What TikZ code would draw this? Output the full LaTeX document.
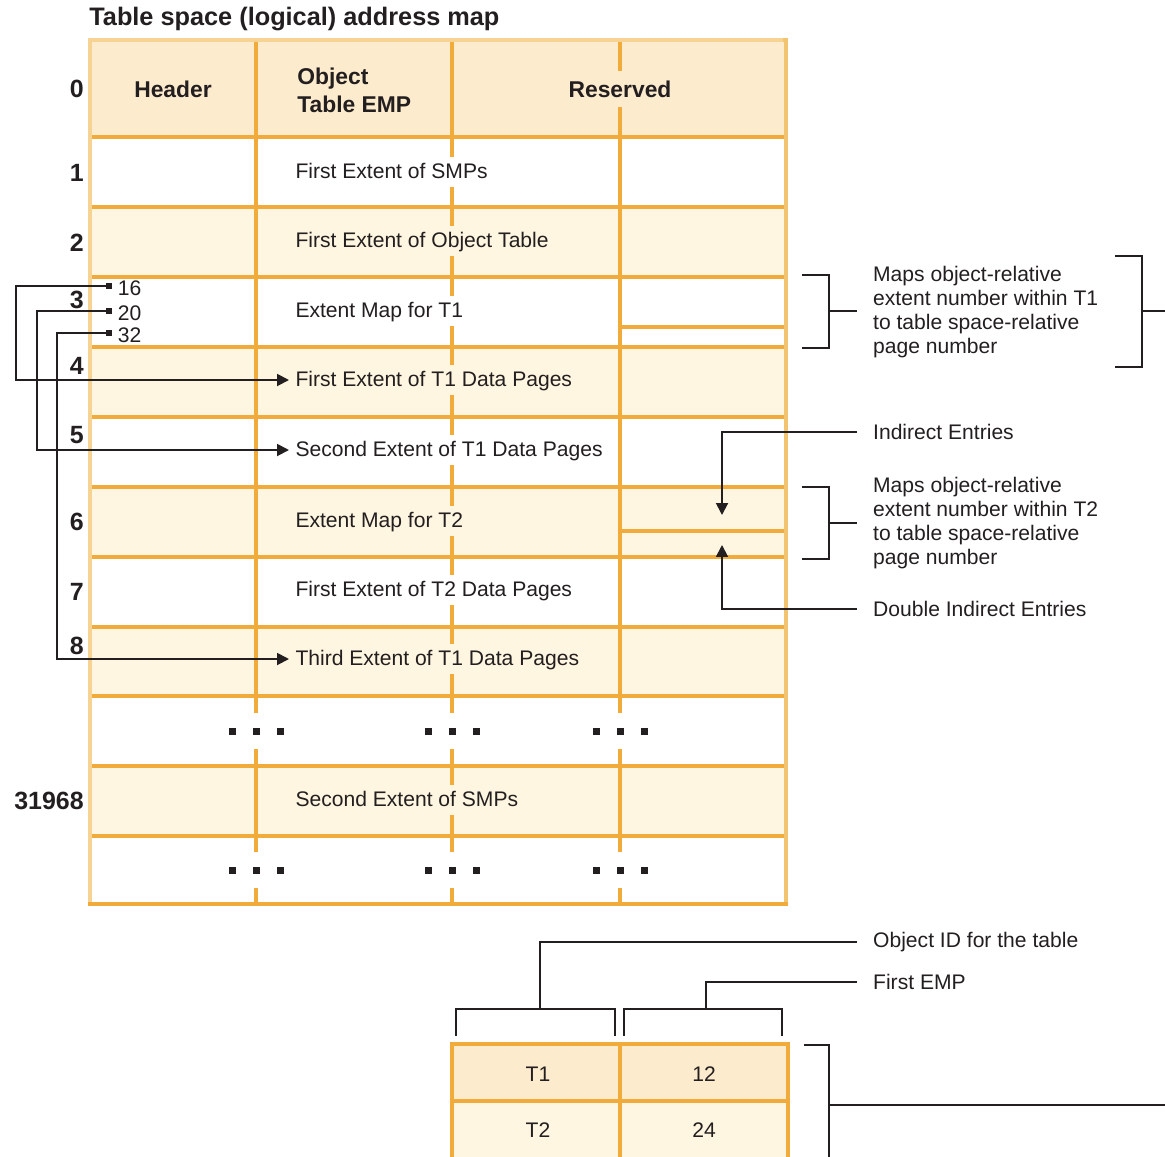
\documentclass[tikz,border=0pt]{standalone}
\usepackage{fontspec}
\setmainfont{Liberation Sans}
\usetikzlibrary{positioning,arrows.meta}

\definecolor{trait}{RGB}{241,171,58}
\definecolor{entete}{RGB}{253,235,205}
\definecolor{clair}{RGB}{254,246,224}
\definecolor{bord}{RGB}{246,211,146}
\definecolor{bordd}{RGB}{243,196,112}
\definecolor{encre}{RGB}{35,31,32}

\tikzset{
  grille/.style={draw=trait,line width=1.8pt},
  lien/.style={draw=encre,line width=1.1pt},
  fleche/.style={lien,-{Triangle[length=6.8pt,width=6.8pt]}},
  texte/.style={font=\fontsize{12}{13.6}\selectfont,text=encre,inner sep=0pt},
  cellule/.style={texte,anchor=west,inner xsep=3.5pt,inner ysep=4.3pt,text height=0.8em,text depth=0.1em},
  annot/.style={texte,anchor=west,align=left,inner xsep=9pt},
  numero/.style={texte,anchor=east,font=\fontsize{14.2}{16}\selectfont\bfseries},
  titre/.style={texte,font=\fontsize{13}{16}\selectfont\bfseries},
  carre/.style={fill=encre,inner sep=0pt,minimum size=3.4pt},
}

\begin{document}
\begin{tikzpicture}[x=0.02cm,y=-0.02cm]
\useasboundingbox (0,0) rectangle (1165,1156);
\clip (0,0) rectangle (1165,1156);

\node[titre,font=\fontsize{14.4}{16}\selectfont\bfseries,anchor=west] (titre) at (89,19) {Table space (logical) address map};

%cadre
\fill[bord] (88,38) rectangle (788,906);
\fill[bordd] (783,38) rectangle (788,906);
\fill[trait] (88,902) rectangle (788,906);
\fill[entete] (92,42) rectangle (784,137);
\foreach \ya/\yb/\c in {137/207/white,207/277/clair,277/347/white,347/417/clair,417/487/white,487/557/clair,557/627/white,627/696/clair,696/766/white,766/836/clair,836/902/white}
  \fill[\c] (92,\ya) rectangle (784,\yb);
\foreach \y in {137,207,277,347,417,487,557,627,696,766,836}
  \draw[grille] (92,\y) -- (784,\y);
\foreach \x in {256,452,620}
  \draw[grille] (\x,42) -- (\x,902);
\draw[grille] (620,327) -- (784,327) (620,531) -- (784,531);

\node[titre] (hHead) at (173,89) {Header};
\node[titre,anchor=west,align=left] (hObj) at (297,90) {Object\\Table EMP};
\node[titre,fill=entete,inner ysep=5.3pt] (hRes) at (620,89) {Reserved};

\foreach \n/\y in {0/89,1/173,2/243,3/300,4/366,5/435,6/522,7/592,8/646,31968/801}
  \node[numero] (n\n) at (84,\y) {\n};

\foreach \nom/\y/\c/\t in {c1/172/white/First Extent of SMPs,c2/241/clair/First Extent of Object Table,c3/311/white/Extent Map for T1,c4/380/clair/First Extent of T1 Data Pages,c5/450/white/Second Extent of T1 Data Pages,c6/521/clair/Extent Map for T2,c7/590/white/First Extent of T2 Data Pages,c8/659/clair/Third Extent of T1 Data Pages,c9/800/clair/Second Extent of SMPs}
  \node[cellule,fill=\c] (\nom) at (289,\y) {\t};

%points de suite
\foreach \y in {731,870}
  \foreach \x in {256,452,620}{
    \fill[white] (\x-30,\y-18) rectangle (\x+30,\y+18);
    \foreach \d in {-24,0,24}
      \fill[encre] (\x+\d-3.5,\y-3.5) rectangle ++(7,7);
  }

%entrees de la map T1
\foreach \v/\y/\xv/\c in {16/286/16/c4,20/311/37/c5,32/333/57/c8}{
  \node[carre] (e\v) at (109,\y) {};
  \node[texte,right=3pt of e\v,yshift=-1pt] (l\v) {\v};
  \draw[fleche] (e\v.west) -- (\xv,\y) |- (\c.west);
}

%legendes a droite
\node[annot] (mapT1) at (857,312) {Maps object-relative\\extent number within T1\\to table space-relative\\page number};
\draw[lien] (802,275) -| (829,348) -- (802,348);
\draw[lien] (829,311) -- (857,311);
\draw[lien] (1115,256) -| (1142,367) -- (1115,367);
\draw[lien] (1142,311) -- (1175,311);

\node[annot] (ind) at (857,432) {Indirect Entries};
\draw[fleche] (ind.west) -| (722,515);
\node[annot] (mapT2) at (857,523) {Maps object-relative\\extent number within T2\\to table space-relative\\page number};
\draw[lien] (802,487) -| (829,559) -- (802,559);
\draw[lien] (829,523) -- (857,523);
\node[annot] (dind) at (857,609) {Double Indirect Entries};
\draw[fleche] (dind.west) -| (722,545);

%table des objets
\node[annot] (oid) at (857,942) {Object ID for the table};
\draw[lien] (oid.west) -| (540,1009);
\draw[lien] (456,1036) |- (615,1009) -- (615,1036);
\node[annot] (emp) at (857,982) {First EMP};
\draw[lien] (emp.west) -| (706,1009);
\draw[lien] (624,1036) |- (782,1009) -- (782,1036);

\fill[entete] (452,1044) rectangle (788,1101);
\fill[clair] (452,1101) rectangle (788,1170);
\draw[grille] (452,1170) -- (452,1044) -- (788,1044) -- (788,1170) (452,1101) -- (788,1101) (620,1044) -- (620,1170);
\node[texte] (tT1) at (538,1074) {T1};
\node[texte] (tN12) at (704,1074) {12};
\node[texte] (tT2) at (538,1130) {T2};
\node[texte] (tN24) at (704,1130) {24};
\draw[lien] (804,1045) -| (829,1170);
\draw[lien] (829,1105) -- (1175,1105);
\end{tikzpicture}
\end{document}
